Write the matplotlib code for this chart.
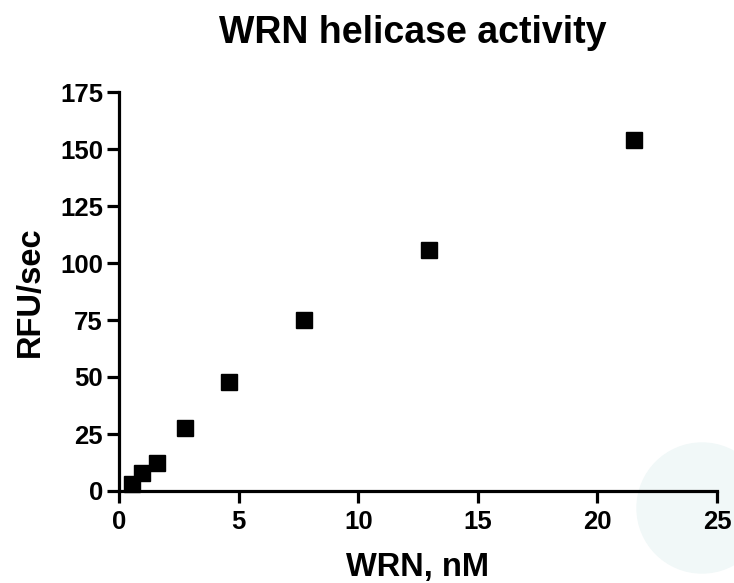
import matplotlib
matplotlib.use("Agg")
import matplotlib.pyplot as plt
from matplotlib.patches import Ellipse

# WRN concentration (nM) and helicase rate (RFU/sec)
wrn_nm = [0.55, 0.95, 1.6, 2.75, 4.6, 7.75, 12.95, 21.55]
rfu_sec = [3.0, 8.0, 12.5, 27.5, 47.8, 75.0, 105.8, 154.0]

x_ticks = [0, 5, 10, 15, 20, 25]
y_ticks = [0, 25, 50, 75, 100, 125, 150, 175]

plt.rcParams["font.family"] = ["Liberation Sans", "DejaVu Sans"]
plt.rcParams["font.weight"] = "bold"


def main():
    fig = plt.figure(figsize=(7.34, 5.83), dpi=100)
    # faint circle in the bottom-right corner of the original image
    fig.add_artist(Ellipse((702 / 734, 1 - 508 / 583), 130 / 734, 130 / 583,
                           transform=fig.transFigure, color="#f1f8f8",
                           zorder=-1))
    ax = fig.add_axes([119 / 734, 1 - 491 / 583, 598 / 734, 399 / 583])
    ax.patch.set_alpha(0)

    ax.plot(wrn_nm, rfu_sec, linestyle="none", marker="s", markersize=11.5,
            color="black", clip_on=False)

    ax.set_xlim(0, 25)
    ax.set_ylim(0, 175)
    ax.set_xticks(x_ticks)
    ax.set_yticks(y_ticks)

    for side in ["top", "right"]:
        ax.spines[side].set_visible(False)
    for side in ["left", "bottom"]:
        ax.spines[side].set_linewidth(2.3)
    ax.tick_params(axis="both", direction="out", length=8.5, width=2.3,
                   labelsize=18.5)
    ax.tick_params(axis="x", pad=5)
    ax.tick_params(axis="y", pad=3)

    ax.set_xlabel("WRN, nM", fontsize=23.5, fontweight="bold", labelpad=13)
    ax.set_ylabel("RFU/sec", fontsize=23.5, fontweight="bold", labelpad=10)
    ax.set_title("WRN helicase activity", fontsize=27, fontweight="bold",
                 pad=35, x=0.492)

    fig.savefig("out.png", dpi=100)
    plt.close(fig)


if __name__ == "__main__":
    main()
